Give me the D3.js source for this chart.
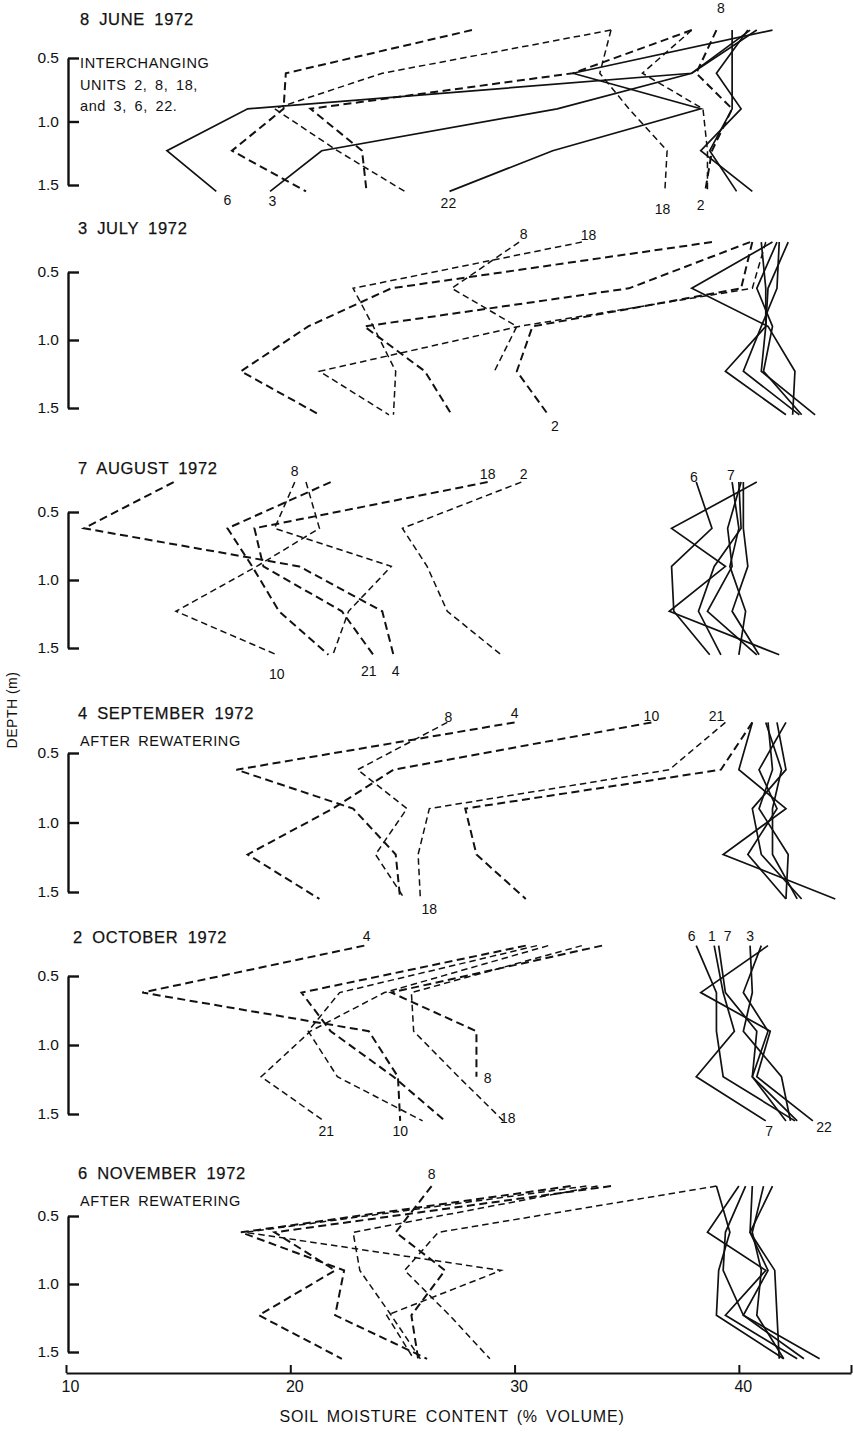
<!DOCTYPE html>
<html><head><meta charset="utf-8">
<script src="https://cdn.jsdelivr.net/npm/d3@7"></script>
<style>
body{margin:0;background:#fff;}
svg{display:block;}
text{font-family:"Liberation Sans",Arial,Helvetica,sans-serif;fill:#111;}
</style></head><body>
<div id="chart"></div>
<script>
// ---------- data ----------
const DEPTHS = [0.28, 0.62, 0.9, 1.23, 1.55];
const DEPTH_TICKS = [0.5, 1.0, 1.5];
const X_TICKS = [10, 20, 30, 40, 45];

const PANEL_TITLES = ["8 JUNE 1972", "3 JULY 1972", "7 AUGUST 1972", "4 SEPTEMBER 1972", "2 OCTOBER 1972", "6 NOVEMBER 1972"];
const PANEL_NOTES = [["INTERCHANGING", "UNITS 2, 8, 18,", "and 3, 6, 22."], [], [], ["AFTER REWATERING"], [], ["AFTER REWATERING"]];

// each row: moisture (% volume) at DEPTHS
const june_dashed = [
  [28.1, 19.8, 19.7, 17.4, 20.7],
  [34.3, 24.1, 19.3, 22.1, 25.1],
  [37.9, 32.6, 20.9, 23.2, 23.4],
  [34.3, 33.8, 35.1, 36.8, 36.7],
  [39.0, 38.1, 39.7, 38.8, 38.5],
  [37.9, 35.7, 38.4, 38.6, 38.6]
];
const june_solid = [
  [40.5, 37.9, 18.1, 14.5, 16.7],
  [40.8, 37.9, 31.9, 21.4, 19.1],
  [41.5, 32.6, 38.3, 31.7, 27.1],
  [39.7, 39.7, 39.7, 38.7, 39.9],
  [40.4, 39.0, 40.1, 38.3, 40.6]
];
const july_dashed = [
  [38.8, 24.5, 20.8, 17.8, 21.3],
  [33.0, 22.8, 23.7, 24.7, 24.6],
  [40.5, 35.1, 23.3, 26.0, 27.2],
  [41.2, 40.6, 30.2, 21.3, 24.4],
  [40.6, 40.1, 30.8, 30.1, 31.5],
  [30.2, 27.2, 30.1, 29.1, null]
];
const july_solid = [
  [41.5, 37.9, 41.3, 42.5, 42.4],
  [42.2, 41.3, 41.2, 39.4, 42.1],
  [41.0, 41.2, 41.2, 41.0, 43.4],
  [41.8, 41.7, 41.0, 40.2, 42.7],
  [41.7, 40.8, 41.5, 41.1, 42.8]
];
const aug_dashed = [
  [14.8, 10.8, 20.4, 24.1, 24.6],
  [20.7, 21.3, 18.5, 14.9, 19.4],
  [21.8, 17.2, 18.3, 19.5, 21.7],
  [20.2, 19.3, 24.5, 22.6, 21.9],
  [28.8, 18.4, 18.8, 22.3, 23.7],
  [30.3, 25.0, 26.1, 27.0, 29.4]
];
const aug_solid = [
  [38.1, 38.8, 37.0, 37.1, 38.7],
  [39.7, 40.0, 39.6, 40.3, 40.0],
  [40.8, 37.0, 39.4, 36.9, 41.8],
  [40.1, 39.5, 39.7, 38.6, 40.8],
  [40.2, 40.2, 40.4, 39.7, 40.9],
  [40.0, 40.1, 38.9, 38.2, 39.2]
];
const sep_dashed = [
  [30.0, 17.6, 22.8, 24.7, 24.9],
  [27.0, 23.0, 25.2, 23.8, 25.1],
  [36.1, 24.6, 21.9, 18.1, 21.3],
  [39.4, 36.9, 26.2, 25.7, 25.8],
  [40.6, 39.2, 27.8, 28.3, 30.5]
];
const sep_solid = [
  [40.6, 40.0, 42.1, 39.3, 44.3],
  [42.1, 40.9, 41.7, 40.4, 42.1],
  [41.3, 41.5, 40.9, 42.2, 42.1],
  [41.7, 42.1, 40.6, 41.0, 42.8],
  [41.2, 41.9, 41.5, 41.5, 42.6]
];
const oct_dashed = [
  [23.3, 13.4, 23.5, 24.8, 24.9],
  [31.5, 24.2, 20.9, 18.7, 21.5],
  [30.5, 20.5, 21.8, 24.6, 26.9],
  [31.0, 22.2, 20.8, 22.1, 25.9],
  [33.9, 24.5, 28.3, 28.3, null],
  [33.0, 25.4, 25.5, 27.5, 29.5]
];
const oct_solid = [
  [38.1, 39.0, 39.0, 39.3, 42.5],
  [38.9, 39.3, 39.8, 38.1, 41.2],
  [39.1, 39.4, 40.8, 40.6, 42.1],
  [40.5, 40.6, 40.2, 41.9, 42.3],
  [41.3, 38.3, 41.4, 40.8, 43.3],
  [41.0, 40.2, 41.3, 40.6, 42.6]
];
const nov_dashed = [
  [32.5, 17.8, 22.4, 22.0, 26.1],
  [33.2, 18.0, 29.4, 24.3, 25.5],
  [34.3, 19.3, 22.0, 18.6, 22.3],
  [39.0, 26.6, 25.1, 27.1, 28.9],
  [26.3, 24.7, 26.9, 25.4, 25.7],
  [33.7, 22.8, 23.1, 24.5, 25.8]
];
const nov_solid = [
  [39.0, 39.6, 39.1, 39.0, 42.0],
  [40.0, 38.6, 41.2, 39.4, 42.6],
  [40.6, 40.5, 41.3, 40.2, 43.6],
  [41.1, 40.6, 41.0, 40.8, 42.0],
  [41.5, 40.5, 41.6, 41.7, 41.8],
  [40.3, 39.4, 39.3, 40.2, 42.9]
];

// unit labels: [text, moisture, depth]
const june_labels = [["8", 39.2, 0.12], ["6", 17.2, 1.63], ["3", 19.2, 1.64], ["22", 27.05, 1.65], ["18", 36.6, 1.70], ["2", 38.3, 1.67]];
const july_labels = [["8", 30.4, 0.23], ["18", 33.3, 0.24], ["2", 31.8, 1.64]];
const aug_labels = [["8", 20.2, 0.21], ["18", 28.8, 0.23], ["2", 30.4, 0.23], ["6", 38.0, 0.25], ["7", 39.65, 0.24], ["10", 19.4, 1.70], ["21", 23.5, 1.68], ["4", 24.7, 1.68]];
const sep_labels = [["8", 27.05, 0.25], ["4", 30.0, 0.22], ["10", 36.1, 0.24], ["21", 39.0, 0.24], ["18", 26.2, 1.63]];
const oct_labels = [["4", 23.4, 0.22], ["21", 21.6, 1.63], ["10", 24.9, 1.63], ["8", 28.8, 1.25], ["18", 29.7, 1.54], ["6", 37.9, 0.22], ["1", 38.8, 0.22], ["7", 39.5, 0.22], ["3", 40.5, 0.22], ["7", 41.35, 1.63], ["22", 43.8, 1.60]];
const nov_labels = [["8", 26.3, 0.2]];

const panels = [
  {dashed: june_dashed, solid: june_solid, labels: june_labels},
  {dashed: july_dashed, solid: july_solid, labels: july_labels},
  {dashed: aug_dashed, solid: aug_solid, labels: aug_labels},
  {dashed: sep_dashed, solid: sep_solid, labels: sep_labels},
  {dashed: oct_dashed, solid: oct_solid, labels: oct_labels},
  {dashed: nov_dashed, solid: nov_solid, labels: nov_labels}
];

// ---------- layout ----------
const W = 853, H = 1432;
const AXIS_X = 68;
const Y05 = [58, 272, 512, 753, 976, 1216];
const Y15 = [185, 408, 648, 892, 1114, 1352];
const TITLE_Y = [25, 234, 474, 719, 943, 1179];
const TITLE_X = [80, 78, 78, 78, 73, 78];
const X_AXIS_Y = 1373;

const svg = d3.select("#chart").append("svg").attr("width", W).attr("height", H);
const x = d3.scaleLinear().domain([10, 45]).range([66, 851]);

const lineGen = (y) => d3.line()
  .defined(v => v != null)
  .x(v => x(v))
  .y((v, i) => y(DEPTHS[i]));

panels.forEach((p, i) => {
  const g = svg.append("g");
  const y = d3.scaleLinear().domain([0.5, 1.5]).range([Y05[i], Y15[i]]);

  // title
  g.append("text").attr("x", TITLE_X[i]).attr("y", TITLE_Y[i])
    .attr("font-size", 16.5).attr("letter-spacing", 0.7).attr("word-spacing", 4)
    .attr("stroke", "#111").attr("stroke-width", 0.25)
    .text(PANEL_TITLES[i]);
  PANEL_NOTES[i].forEach((t, k) => {
    const ny = i === 0 ? 68 + k * 21.5 : TITLE_Y[i] + 27;
    g.append("text").attr("x", 80).attr("y", ny)
      .attr("font-size", 14.5).attr("letter-spacing", 0.6).attr("word-spacing", 3)
      .text(t);
  });

  // depth bracket axis
  const ax = g.append("g").attr("transform", `translate(${AXIS_X},0)`)
    .call(d3.axisLeft(y).tickValues(DEPTH_TICKS).tickSizeInner(-11).tickSizeOuter(0).tickPadding(9)
      .tickFormat(d3.format(".1f")));
  ax.select(".domain").attr("stroke", "#111").attr("stroke-width", 2.4);
  ax.selectAll(".tick line").attr("stroke", "#111").attr("stroke-width", 2.4);
  ax.selectAll(".tick text").attr("font-size", 15.5).attr("font-family", "Liberation Sans, Arial, sans-serif").attr("fill", "#111");

  const lg = lineGen(y);
  g.selectAll("path.dashed").data(p.dashed).join("path")
    .attr("class", "dashed")
    .attr("d", lg)
    .attr("fill", "none").attr("stroke", "#111")
    .attr("stroke-width", (d, k) => k % 2 === 0 ? 2.0 : 1.5)
    .attr("stroke-dasharray", (d, k) => k % 2 === 0 ? "8,4.5" : "6.5,4");
  g.selectAll("path.solid").data(p.solid).join("path")
    .attr("class", "solid")
    .attr("d", lg)
    .attr("fill", "none").attr("stroke", "#111")
    .attr("stroke-width", 1.7).attr("stroke-linejoin", "miter");

  g.selectAll("text.unit").data(p.labels).join("text")
    .attr("class", "unit")
    .attr("x", d => x(d[1])).attr("y", d => y(d[2]))
    .attr("text-anchor", "middle").attr("dominant-baseline", "middle")
    .attr("font-size", 14)
    .text(d => d[0]);
});

// x axis
const xa = svg.append("g").attr("transform", `translate(0,${X_AXIS_Y})`)
  .call(d3.axisBottom(x).tickValues(X_TICKS).tickSizeInner(-8).tickSizeOuter(0).tickPadding(8)
    .tickFormat(d => d === 45 ? "" : d));
xa.select(".domain").attr("stroke", "#111").attr("stroke-width", 2);
xa.selectAll(".tick line").attr("stroke", "#111").attr("stroke-width", 2);
xa.selectAll(".tick text").attr("font-size", 16).attr("dx", 4)
  .attr("font-family", "Liberation Sans, Arial, sans-serif").attr("fill", "#111");

svg.append("text").attr("x", 452).attr("y", 1422).attr("text-anchor", "middle")
  .attr("font-size", 16).attr("letter-spacing", 0.8).attr("word-spacing", 3)
  .text("SOIL MOISTURE CONTENT (% VOLUME)");

svg.append("text").attr("transform", "translate(17,710) rotate(-90)")
  .attr("text-anchor", "middle").attr("font-size", 14).attr("letter-spacing", 0.5)
  .text("DEPTH (m)");
</script>
</body></html>
